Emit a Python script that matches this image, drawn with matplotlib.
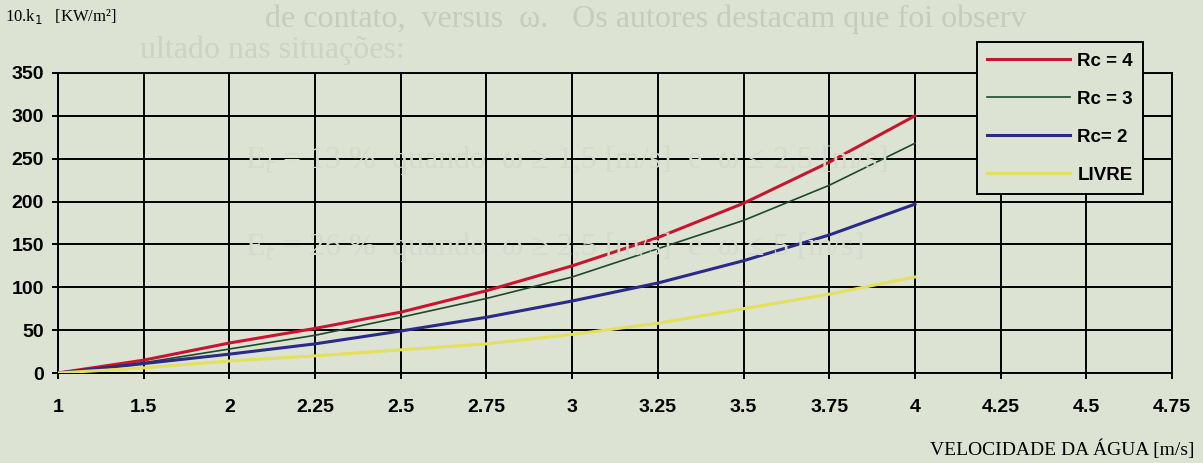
import matplotlib.pyplot as plt
import numpy as np

# Water velocity categories (evenly spaced on the axis, as in the spreadsheet)
velocidade = ['1', '1.5', '2', '2.25', '2.5', '2.75', '3', '3.25', '3.5',
              '3.75', '4', '4.25', '4.5', '4.75']

# 10.k1 [KW/m2] per series, measured from 1 to 4 m/s
rc4 = [0, 15, 35, 52, 71, 96, 125, 158, 198, 246, 300]
rc3 = [0, 12, 28, 44, 65, 87, 112, 145, 178, 219, 268]
rc2 = [0, 11, 22, 34, 49, 65, 84, 105, 131, 161, 197]
livre = [0, 6, 14, 20, 27, 34, 45, 58, 75, 92, 112]

paper = '#dde3d3'

fig = plt.figure(figsize=(12.03, 4.63), dpi=100, facecolor=paper)
ax = fig.add_axes([58 / 1203, 1 - 373 / 463, 1114 / 1203, 300 / 463])
ax.set_facecolor('none')

# faint text showing through from the page behind the chart
ghost = dict(family='Liberation Serif', zorder=0, va='center', fontsize=23)
fig.text(265 / 1203, 1 - 19 / 463,
         'de contato,  versus  \u03c9.   Os autores destacam que foi observ',
         color='#c6ccbd', **ghost)
fig.text(140 / 1203, 1 - 50 / 463, 'ultado nas situa\u00e7\u00f5es:',
         color='#cdd3c4', **ghost)
fig.text(245 / 1203, 1 - 160 / 463,
         'E$_t$ = 13 %  quando  \u03c9 \u2265 1,5 [m/s]  e  \u03c9 \u2264 2,5 [m/s]',
         color='#d5dbcb', **ghost)
fig.text(245 / 1203, 1 - 247 / 463,
         'E$_t$ = 26 %  quando  \u03c9 \u2265 2,5 [m/s]  e  \u03c9 \u2264 5 [m/s]',
         color='#d5dbcb', **ghost)

x = np.arange(len(velocidade))
n = len(rc4)
ax.plot(x[:n], rc4, color='#c8142f', lw=2.2, label='Rc = 4', zorder=3)
ax.plot(x[:n], rc3, color='#1c4a2a', lw=1.2, label='Rc = 3', zorder=3)
ax.plot(x[:n], rc2, color='#2a2a88', lw=2.2, label='Rc= 2', zorder=3)
ax.plot(x[:n], livre, color='#e4df5c', lw=2.2, label='LIVRE', zorder=3)

ax.set_xlim(0, len(velocidade) - 1)
ax.set_ylim(0, 350)
ax.set_xticks(x)
ax.set_xticklabels(velocidade)
ax.set_yticks(np.arange(0, 351, 50))
ax.grid(True, color='black', lw=1.4)
ax.set_axisbelow(True)
for s in ax.spines.values():
    s.set_linewidth(1.4)
ax.tick_params(direction='out', length=4, width=1.4, color='black')
ax.tick_params(axis='x', pad=15)
ax.tick_params(axis='y', pad=6)
for lab in ax.get_xticklabels() + ax.get_yticklabels():
    lab.set_fontfamily('Liberation Sans')
    lab.set_fontweight('bold')
    lab.set_fontsize(14)

fig.text(5 / 1203, 1 - 16 / 463, '10.k$_1$   [KW/m\u00b2]', family='Liberation Serif',
         fontsize=12, va='center', ha='left')
fig.text(1195 / 1203, 1 - 449 / 463, 'VELOCIDADE DA \u00c1GUA [m/s]', family='Liberation Serif',
         fontsize=14, va='center', ha='right')

leg = ax.legend(loc='upper left', bbox_to_anchor=(0.825, 1.103), borderaxespad=0,
                fancybox=False, framealpha=1, facecolor=paper, edgecolor='black',
                prop={'family': 'Liberation Sans', 'weight': 'bold', 'size': 13.5},
                handlelength=4.4, handletextpad=0.4, labelspacing=1.12, borderpad=0.55)
leg.get_frame().set_linewidth(1.4)
leg.set_zorder(5)

fig.savefig('out.png', dpi=100, facecolor=paper)
